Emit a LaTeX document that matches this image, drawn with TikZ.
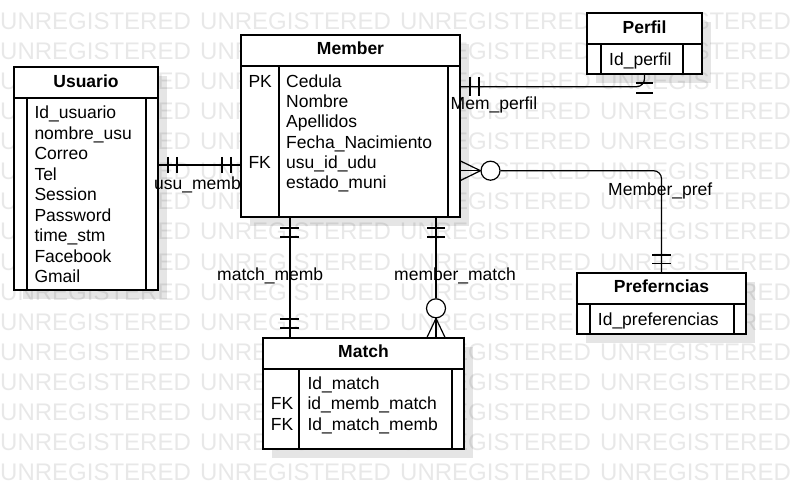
\documentclass[tikz,border=0pt]{standalone}
\usepackage{fontspec}
\setmainfont{Liberation Sans}
\usepackage{tikz}
\usetikzlibrary{shadows}
\newcommand{\erfont}{\fontsize{17.5}{21}\selectfont}
\newcommand{\wmfont}{\fontsize{24}{28}\selectfont}

\begin{document}
\begin{tikzpicture}[x=1pt,y=-1pt,
    rel/.style={line width=1.2pt},
    table/.style={draw, fill=white, line width=1.2pt, inner sep=0pt,
      drop shadow={shadow xshift=9pt, shadow yshift=-9pt, opacity=0.1, fill=black}},
    title/.style={anchor=base, inner sep=0pt, font=\erfont\bfseries},
    field/.style={anchor=base west, inner sep=0pt, font=\erfont},
    lbl/.style={anchor=base west, inner sep=0pt, font=\erfont},
    zerocirc/.style={draw, circle, fill=white, line width=1.2pt, inner sep=0pt, minimum size=19pt},
    wmark/.style={anchor=base west, inner sep=0pt, font=\wmfont, text=black!9}]
    \useasboundingbox (0,0) rectangle (800,494);

    % watermark
    \foreach \r in {0,...,15}
        \foreach \c in {0,...,3}
            \node[wmark] (wm\r\c) at (200*\c,30+30*\r) {UNREGISTERED};

    % Usuario
    \node[table, minimum width=144pt, minimum height=223pt] (usuario) at (86,178.5) {};
    \draw[rel] (14,98) -- (158,98); % header
    \draw[rel] (27,98) -- (27,290);
    \draw[rel] (146,98) -- (146,290);
    \node[title] (usuarioT) at (86,87.3) {Usuario};
    \foreach \a [count=\i from 0] in {Id\_usuario,nombre\_usu,Correo,Tel,Session,Password,time\_stm,Facebook,Gmail}
        \node[field] (usu\i) at (34.3,119+20.45*\i) {\a};

    % Member
    \node[table, minimum width=219pt, minimum height=182pt] (member) at (350.5,126) {};
    \draw[rel] (241,66) -- (460,66); % header
    \draw[rel] (279,66) -- (279,217);
    \draw[rel] (448,66) -- (448,217);
    \node[title] (memberT) at (350.5,55) {Member};
    \node[field] (memPK) at (248.3,87.5) {PK};
    \node[field] (memFK) at (248.3,168.3) {FK};
    \foreach \a [count=\i from 0] in {Cedula,Nombre,Apellidos,Fecha\_Nacimiento,usu\_id\_udu,estado\_muni}
        \node[field] (mem\i) at (286,87.5+20.2*\i) {\a};

    % Perfil
    \node[table, minimum width=115pt, minimum height=61pt] (perfil) at (644.5,43.5) {};
    \draw[rel] (587,44) -- (702,44); % header
    \draw[rel] (601,44) -- (601,74);
    \draw[rel] (683,44) -- (683,74);
    \node[title] (perfilT) at (644.5,33.3) {Perfil};
    \node[field] (per0) at (609,66) {Id\_perfil};

    % Preferncias
    \node[table, minimum width=169pt, minimum height=61pt] (preferncias) at (661.5,303.5) {};
    \draw[rel] (577,304) -- (746,304); % header
    \draw[rel] (590,304) -- (590,334);
    \draw[rel] (734,304) -- (734,334);
    \node[title] (prefT) at (661.5,292.7) {Preferncias};
    \node[field] (pref0) at (597.7,325) {Id\_preferencias};

    % Match
    \node[table, minimum width=201pt, minimum height=111pt] (match) at (363.5,393.5) {};
    \draw[rel] (263,369) -- (464,369); % header
    \draw[rel] (299,369) -- (299,449);
    \draw[rel] (452,369) -- (452,449);
    \node[title] (matchT) at (363.5,357.3) {Match};
    \node[field] (matFK1) at (270.7,409.8) {FK};
    \node[field] (matFK2) at (270.7,430) {FK};
    \foreach \a [count=\i from 0] in {Id\_match,id\_memb\_match,Id\_match\_memb}
        \node[field] (mat\i) at (307.3,389.6+20.2*\i) {\a};

    % usu_memb
    \coordinate (umY) at (0,165);
    \draw[rel] (usuario.east |- umY) -- (member.west |- umY);
    \draw[rel] (168,157) -- (168,173) (177,157) -- (177,173); % one
    \draw[rel] (222,157) -- (222,173) (231,157) -- (231,173); % one
    \node[lbl] (umL) at (154,190) {usu\_memb};

    % Mem_perfil
    \coordinate (mpY) at (0,86.7);
    \draw[rel, rounded corners=8pt] (member.east |- mpY) -- (perfil.south |- mpY) -- (perfil.south);
    \draw[rel] (470,77) -- (470,96) (479,77) -- (479,96); % one
    \draw[rel] (636,83) -- (653,83) (636,93) -- (653,93); % one
    \node[lbl] (mpL) at (450.5,110) {Mem\_perfil};

    % Member_pref
    \coordinate (mfY) at (0,170.7);
    \node[zerocirc] (mfO) at (490.5,170.7) {};
    \draw[rel] (member.east |- mfY) -- (mfO.west);
    \draw[rel] (460.5,161) -- (mfO.west) -- (460.5,180.5); % many
    \draw[rel, rounded corners=8pt] (mfO.east) -- (preferncias.north |- mfO) -- (preferncias.north);
    \draw[rel] (652,255) -- (671,255) (652,263.5) -- (671,263.5); % one
    \node[lbl] (mfL) at (608,196) {Member\_pref};

    % match_memb
    \coordinate (mmX) at (290,0);
    \draw[rel] (member.south -| mmX) -- (match.north -| mmX);
    \draw[rel] (280,228) -- (299,228) (280,237) -- (299,237); % one
    \draw[rel] (280,319) -- (299,319) (280,328) -- (299,328); % one
    \node[lbl] (mmL) at (217,280.7) {match\_memb};

    % member_match
    \coordinate (mxX) at (436,0);
    \node[zerocirc] (mxO) at (436,308.3) {};
    \draw[rel] (member.south -| mxX) -- (mxO.north);
    \draw[rel] (mxO.south) -- (match.north -| mxX);
    \draw[rel] (426.7,338) -- (mxO.south) -- (445.3,338); % many
    \draw[rel] (427,228) -- (445,228) (427,237) -- (445,237); % one
    \node[lbl] (mxL) at (394,280.7) {member\_match};
\end{tikzpicture}
\end{document}
